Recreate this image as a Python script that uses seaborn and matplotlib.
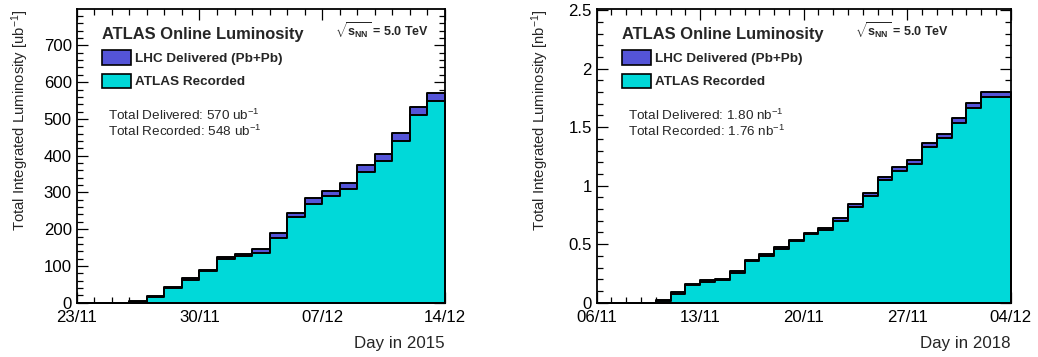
import numpy as np
import pandas as pd
import matplotlib
matplotlib.use("Agg")
import matplotlib.pyplot as plt
from matplotlib.patches import Patch
from matplotlib.ticker import MultipleLocator, FuncFormatter
import seaborn as sns

# Daily cumulative integrated luminosity, one bin per day
# 2015 Pb+Pb run, first bin 23/11/2015  [ub^-1]
delivered_2015 = [0, 0, 0, 5, 19, 44, 66, 89, 124, 133, 147, 189, 245, 285,
                  305, 326, 375, 405, 461, 532, 570]
recorded_2015 = [0, 0, 0, 3, 16, 41, 63, 85, 120, 128, 136, 177, 232, 268,
                 289, 309, 356, 386, 440, 510, 548]
ticks_2015 = ["23/11", "30/11", "07/12", "14/12"]

# 2018 Pb+Pb run, first bin 06/11/2018  [nb^-1]
delivered_2018 = [0, 0, 0, 0, 0.023, 0.089, 0.163, 0.191, 0.203, 0.271, 0.369,
                  0.417, 0.474, 0.540, 0.597, 0.636, 0.720, 0.840, 0.940, 1.077,
                  1.157, 1.220, 1.369, 1.446, 1.577, 1.709, 1.800, 1.800]
recorded_2018 = [0, 0, 0, 0, 0.015, 0.077, 0.151, 0.180, 0.191, 0.257, 0.354,
                 0.403, 0.460, 0.526, 0.583, 0.620, 0.700, 0.817, 0.911, 1.049,
                 1.129, 1.186, 1.334, 1.409, 1.534, 1.666, 1.755, 1.760]
ticks_2018 = ["06/11", "13/11", "20/11", "27/11", "04/12"]

DELIVERED_COLOR = "#5454d8"
RECORDED_COLOR = "#00d9d9"

sns.set_theme(style="ticks")
plt.rcParams["font.family"] = ["Liberation Sans", "DejaVu Sans"]
plt.rcParams["mathtext.fontset"] = "custom"
plt.rcParams["mathtext.rm"] = "Liberation Sans"
plt.rcParams["mathtext.bf"] = "Liberation Sans:bold"
plt.rcParams["mathtext.default"] = "regular"

W, H = 1038, 357
fig = plt.figure(figsize=(W / 100, H / 100), dpi=100)


def px_axes(x0, x1, y0, y1):
    """Axes from pixel box (x0..x1 left-right, y0..y1 top-bottom)."""
    return fig.add_axes([x0 / W, (H - y1) / H, (x1 - x0) / W, (y1 - y0) / H])


def panel(ax, delivered, recorded, tick_labels, ymax, ymajor, yminor,
          unit, year, tot_del, tot_rec):
    n = len(delivered)
    df = pd.DataFrame({"day": np.arange(n) + 0.5,
                       "delivered": np.asarray(delivered, float),
                       "recorded": np.asarray(recorded, float)})
    for col, color in (("delivered", DELIVERED_COLOR),
                       ("recorded", RECORDED_COLOR)):
        sns.histplot(data=df, x="day", weights=col, bins=n, binrange=(0, n),
                     element="step", fill=True, color=color, alpha=1,
                     edgecolor="black", linewidth=1.4, ax=ax)

    ax.set_xlim(0, n)
    ax.set_ylim(0, ymax)
    ax.set_xticks(np.arange(0, n + 1, 7), tick_labels)
    ax.xaxis.set_minor_locator(MultipleLocator(1))
    ax.yaxis.set_major_locator(MultipleLocator(ymajor))
    ax.yaxis.set_minor_locator(MultipleLocator(yminor))
    ax.yaxis.set_major_formatter(FuncFormatter(lambda v, p: f"{v:g}"))
    ax.tick_params(which="both", direction="in", top=True, right=True,
                   colors="black", labelsize=12.1, width=0.9)
    ax.tick_params(which="major", length=8, pad=3.5)
    ax.tick_params(which="minor", length=4)
    ax.tick_params(axis="x", which="major", pad=5.5)
    for s in ax.spines.values():
        s.set_linewidth(1.3)
        s.set_color("black")

    # pixel offsets inside the frame -> axes fractions
    bb = ax.get_position()
    aw, ah = bb.width * W, bb.height * H

    ax.set_xlabel(f"Day in {year}", loc="right", fontsize=12.2)
    ax.xaxis.set_label_coords(1.0, -33 / ah)
    ax.set_ylabel(f"Total Integrated Luminosity [{unit}$^{{-1}}$]",
                  loc="top", fontsize=10.7)
    ax.yaxis.set_label_coords(-46 / aw, 1.0)

    handles = [Patch(facecolor=DELIVERED_COLOR, edgecolor="black", linewidth=1.2),
               Patch(facecolor=RECORDED_COLOR, edgecolor="black", linewidth=1.2)]
    ax.legend(handles, ["LHC Delivered (Pb+Pb)", "ATLAS Recorded"],
              title="ATLAS Online Luminosity",
              title_fontproperties={"weight": "bold", "size": 11.9},
              prop={"weight": "bold", "size": 9.7},
              loc="upper left",
              bbox_to_anchor=(25 / aw, 1 - 17.5 / ah),
              frameon=False, borderpad=0, borderaxespad=0,
              handlelength=2.15, handleheight=1.26,
              handletextpad=0.3, labelspacing=0.65,
              alignment="left")

    ax.text(31.5 / aw, 1 - 110.5 / ah, f"Total Delivered: {tot_del} {unit}$^{{-1}}$",
            transform=ax.transAxes, fontsize=9.7, va="baseline", ha="left")
    ax.text(31.5 / aw, 1 - 127.5 / ah, f"Total Recorded: {tot_rec} {unit}$^{{-1}}$",
            transform=ax.transAxes, fontsize=9.7, va="baseline", ha="left")
    ax.text(258.5 / aw, 1 - 28 / ah,
            r"$\sqrt{\mathbf{s}_{\mathbf{NN}}}$ = 5.0 TeV",
            transform=ax.transAxes, fontsize=9, fontweight="bold",
            va="baseline", ha="left")


ax1 = px_axes(76.7, 445.0, 9.0, 302.7)
ax2 = px_axes(596.7, 1010.7, 9.0, 302.7)

panel(ax1, delivered_2015, recorded_2015, ticks_2015, 799, 100, 20,
      "ub", 2015, f"{delivered_2015[-1]:.0f}", f"{recorded_2015[-1]:.0f}")
panel(ax2, delivered_2018, recorded_2018, ticks_2018, 2.51, 0.5, 0.1,
      "nb", 2018, f"{delivered_2018[-1]:.2f}", f"{recorded_2018[-1]:.2f}")

fig.savefig("out.png", dpi=100, facecolor="white")
